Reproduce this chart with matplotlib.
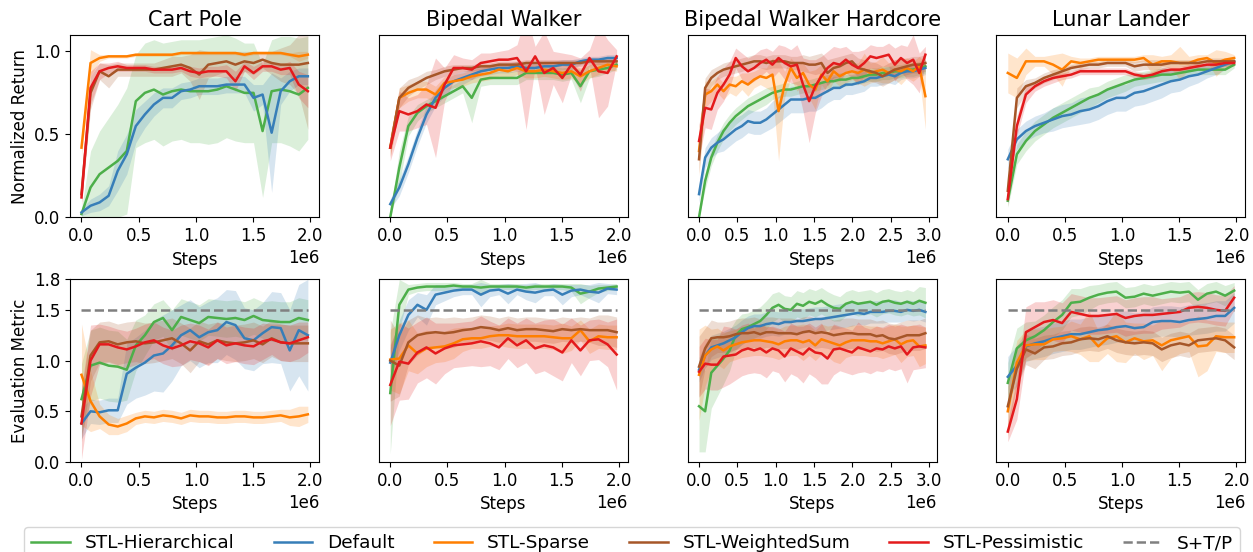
import matplotlib
matplotlib.use("Agg")
import matplotlib.pyplot as plt
import numpy as np

# x positions (steps)
steps_2m = np.linspace(0, 1.98e6, 26)
steps_3m = np.linspace(0, 2.95e6, 38)

envs = ["Cart Pole", "Bipedal Walker", "Bipedal Walker Hardcore", "Lunar Lander"]
methods = ["STL-Hierarchical", "Default", "STL-Sparse", "STL-WeightedSum", "STL-Pessimistic"]
colors = ["#4daf4a", "#377eb8", "#ff7f00", "#a65628", "#e41a1c"]
baseline_value = 1.5

# ---------------- Normalized Return (row 1) ----------------
cp_ret = {
    "STL-Hierarchical": [0.02, 0.18, 0.26, 0.30, 0.34, 0.40, 0.70, 0.75, 0.77, 0.74, 0.76, 0.77, 0.76, 0.76, 0.76, 0.77, 0.79, 0.77, 0.75, 0.75, 0.52, 0.76, 0.77, 0.76, 0.74, 0.78],
    "Default": [0.03, 0.07, 0.09, 0.13, 0.28, 0.38, 0.55, 0.62, 0.68, 0.72, 0.72, 0.76, 0.77, 0.79, 0.79, 0.79, 0.80, 0.80, 0.80, 0.72, 0.74, 0.51, 0.76, 0.82, 0.85, 0.85],
    "STL-Sparse": [0.42, 0.93, 0.96, 0.97, 0.97, 0.97, 0.98, 0.98, 0.98, 0.98, 0.98, 0.99, 0.99, 0.99, 0.99, 0.99, 0.99, 0.99, 0.98, 0.99, 0.99, 0.99, 0.99, 0.98, 0.97, 0.98],
    "STL-WeightedSum": [0.14, 0.75, 0.88, 0.85, 0.89, 0.89, 0.89, 0.89, 0.89, 0.90, 0.91, 0.92, 0.90, 0.86, 0.92, 0.93, 0.94, 0.92, 0.94, 0.93, 0.95, 0.93, 0.92, 0.92, 0.92, 0.93],
    "STL-Pessimistic": [0.12, 0.78, 0.88, 0.90, 0.91, 0.90, 0.90, 0.90, 0.89, 0.89, 0.89, 0.90, 0.88, 0.87, 0.88, 0.88, 0.88, 0.82, 0.91, 0.87, 0.91, 0.91, 0.89, 0.90, 0.80, 0.76],
}
cp_ret_sd = {
    "STL-Hierarchical": [0.03, 0.22, 0.26, 0.30, 0.34, 0.38, 0.28, 0.30, 0.30, 0.31, 0.30, 0.30, 0.31, 0.31, 0.32, 0.32, 0.31, 0.31, 0.30, 0.30, 0.40, 0.31, 0.32, 0.33, 0.34, 0.31],
    "Default": [0.02, 0.04, 0.05, 0.06, 0.12, 0.12, 0.10, 0.08, 0.07, 0.06, 0.06, 0.05, 0.05, 0.05, 0.05, 0.05, 0.05, 0.05, 0.05, 0.08, 0.06, 0.36, 0.08, 0.06, 0.05, 0.05],
    "STL-Sparse": [0.05, 0.08, 0.02, 0.01, 0.01, 0.01, 0.01, 0.01, 0.01, 0.01, 0.01, 0.01, 0.01, 0.01, 0.01, 0.01, 0.01, 0.01, 0.01, 0.01, 0.01, 0.01, 0.01, 0.01, 0.03, 0.02],
    "STL-WeightedSum": [0.05, 0.10, 0.05, 0.07, 0.04, 0.04, 0.04, 0.04, 0.04, 0.05, 0.06, 0.05, 0.08, 0.15, 0.08, 0.07, 0.06, 0.08, 0.06, 0.07, 0.05, 0.07, 0.10, 0.12, 0.18, 0.40],
    "STL-Pessimistic": [0.05, 0.10, 0.05, 0.03, 0.03, 0.02, 0.02, 0.02, 0.02, 0.02, 0.02, 0.02, 0.03, 0.03, 0.03, 0.03, 0.04, 0.06, 0.03, 0.04, 0.03, 0.03, 0.03, 0.04, 0.08, 0.10],
}

bw_ret = {
    "STL-Hierarchical": [0.0, 0.30, 0.55, 0.63, 0.67, 0.70, 0.73, 0.76, 0.79, 0.72, 0.83, 0.84, 0.84, 0.84, 0.84, 0.87, 0.87, 0.87, 0.87, 0.86, 0.87, 0.79, 0.88, 0.89, 0.90, 0.92],
    "Default": [0.08, 0.18, 0.32, 0.48, 0.62, 0.72, 0.78, 0.82, 0.84, 0.86, 0.88, 0.89, 0.90, 0.90, 0.91, 0.90, 0.90, 0.91, 0.91, 0.92, 0.92, 0.94, 0.95, 0.95, 0.96, 0.96],
    "STL-Sparse": [0.42, 0.72, 0.75, 0.77, 0.77, 0.74, 0.81, 0.82, 0.83, 0.85, 0.86, 0.87, 0.89, 0.88, 0.90, 0.88, 0.88, 0.89, 0.88, 0.87, 0.88, 0.85, 0.88, 0.90, 0.92, 0.91],
    "STL-WeightedSum": [0.42, 0.72, 0.78, 0.81, 0.84, 0.86, 0.88, 0.89, 0.90, 0.90, 0.91, 0.91, 0.92, 0.92, 0.92, 0.93, 0.93, 0.93, 0.93, 0.93, 0.93, 0.93, 0.94, 0.94, 0.94, 0.94],
    "STL-Pessimistic": [0.42, 0.64, 0.62, 0.64, 0.68, 0.66, 0.80, 0.90, 0.90, 0.89, 0.93, 0.94, 0.95, 0.95, 0.96, 0.88, 0.97, 0.87, 0.90, 0.84, 0.92, 0.86, 0.96, 0.88, 0.87, 0.97],
}
bw_ret_sd = {
    "STL-Hierarchical": [0.03, 0.10, 0.06, 0.05, 0.04, 0.04, 0.04, 0.04, 0.04, 0.15, 0.04, 0.04, 0.04, 0.04, 0.04, 0.04, 0.04, 0.04, 0.04, 0.04, 0.04, 0.10, 0.04, 0.04, 0.03, 0.03],
    "Default": [0.03, 0.05, 0.05, 0.05, 0.05, 0.05, 0.05, 0.04, 0.04, 0.03, 0.03, 0.03, 0.03, 0.03, 0.03, 0.03, 0.03, 0.03, 0.03, 0.03, 0.03, 0.02, 0.02, 0.02, 0.02, 0.02],
    "STL-Sparse": [0.06, 0.06, 0.05, 0.05, 0.05, 0.05, 0.04, 0.04, 0.04, 0.04, 0.04, 0.04, 0.04, 0.04, 0.04, 0.04, 0.04, 0.04, 0.04, 0.04, 0.04, 0.05, 0.04, 0.04, 0.03, 0.03],
    "STL-WeightedSum": [0.05, 0.06, 0.05, 0.04, 0.04, 0.03, 0.03, 0.03, 0.02, 0.02, 0.02, 0.02, 0.02, 0.02, 0.02, 0.02, 0.02, 0.02, 0.02, 0.02, 0.02, 0.02, 0.02, 0.02, 0.02, 0.02],
    "STL-Pessimistic": [0.08, 0.12, 0.10, 0.10, 0.12, 0.30, 0.10, 0.08, 0.06, 0.06, 0.06, 0.05, 0.05, 0.06, 0.08, 0.35, 0.06, 0.25, 0.10, 0.15, 0.06, 0.10, 0.05, 0.28, 0.20, 0.04],
}

bwh_ret = {
    "STL-Hierarchical": [0.0, 0.22, 0.36, 0.45, 0.52, 0.57, 0.61, 0.64, 0.67, 0.69, 0.71, 0.73, 0.75, 0.76, 0.77, 0.77, 0.78, 0.79, 0.79, 0.80, 0.81, 0.82, 0.82, 0.83, 0.83, 0.84, 0.84, 0.85, 0.86, 0.86, 0.87, 0.87, 0.88, 0.88, 0.89, 0.89, 0.90, 0.91],
    "Default": [0.14, 0.36, 0.42, 0.45, 0.47, 0.50, 0.53, 0.55, 0.58, 0.57, 0.57, 0.59, 0.62, 0.65, 0.68, 0.71, 0.71, 0.71, 0.72, 0.72, 0.74, 0.76, 0.78, 0.78, 0.80, 0.80, 0.81, 0.82, 0.84, 0.84, 0.85, 0.86, 0.85, 0.87, 0.88, 0.88, 0.89, 0.90],
    "STL-Sparse": [0.40, 0.74, 0.76, 0.80, 0.76, 0.80, 0.79, 0.82, 0.80, 0.83, 0.85, 0.84, 0.86, 0.64, 0.80, 0.90, 0.84, 0.87, 0.80, 0.77, 0.86, 0.82, 0.88, 0.85, 0.87, 0.88, 0.87, 0.89, 0.87, 0.88, 0.89, 0.87, 0.89, 0.88, 0.90, 0.88, 0.91, 0.73],
    "STL-WeightedSum": [0.35, 0.78, 0.84, 0.87, 0.89, 0.90, 0.91, 0.92, 0.93, 0.94, 0.94, 0.93, 0.94, 0.94, 0.94, 0.93, 0.93, 0.93, 0.92, 0.92, 0.93, 0.87, 0.90, 0.91, 0.93, 0.94, 0.90, 0.89, 0.88, 0.87, 0.85, 0.87, 0.89, 0.90, 0.91, 0.92, 0.92, 0.93],
    "STL-Pessimistic": [0.46, 0.66, 0.65, 0.75, 0.80, 0.86, 0.96, 0.91, 0.88, 0.90, 0.93, 0.95, 0.92, 0.96, 0.93, 0.91, 0.92, 0.80, 0.70, 0.79, 0.85, 0.90, 0.93, 0.92, 0.95, 0.92, 0.90, 0.93, 0.97, 0.96, 0.97, 0.98, 0.92, 0.96, 0.93, 0.95, 0.87, 0.98],
}
bwh_ret_sd = {
    "STL-Hierarchical": [0.02, 0.05, 0.05, 0.05, 0.05, 0.05, 0.05, 0.05, 0.05, 0.05, 0.05, 0.05, 0.04, 0.04, 0.04, 0.04, 0.04, 0.04, 0.04, 0.04, 0.04, 0.04, 0.04, 0.04, 0.04, 0.04, 0.04, 0.04, 0.04, 0.04, 0.04, 0.04, 0.04, 0.04, 0.04, 0.04, 0.04, 0.04],
    "Default": [0.05, 0.06, 0.06, 0.06, 0.07, 0.07, 0.07, 0.07, 0.07, 0.07, 0.07, 0.07, 0.08, 0.08, 0.08, 0.08, 0.08, 0.08, 0.08, 0.08, 0.08, 0.07, 0.07, 0.07, 0.06, 0.06, 0.06, 0.06, 0.05, 0.05, 0.05, 0.05, 0.05, 0.04, 0.04, 0.04, 0.04, 0.04],
    "STL-Sparse": [0.15, 0.08, 0.06, 0.05, 0.05, 0.05, 0.06, 0.05, 0.07, 0.05, 0.05, 0.06, 0.10, 0.30, 0.08, 0.06, 0.08, 0.06, 0.08, 0.12, 0.06, 0.07, 0.06, 0.06, 0.06, 0.05, 0.06, 0.10, 0.06, 0.06, 0.08, 0.06, 0.06, 0.08, 0.06, 0.06, 0.06, 0.20],
    "STL-WeightedSum": [0.08, 0.06, 0.05, 0.04, 0.04, 0.04, 0.04, 0.04, 0.04, 0.04, 0.04, 0.04, 0.04, 0.04, 0.04, 0.04, 0.04, 0.05, 0.05, 0.06, 0.06, 0.08, 0.06, 0.06, 0.05, 0.05, 0.06, 0.06, 0.06, 0.06, 0.06, 0.06, 0.06, 0.05, 0.05, 0.05, 0.05, 0.05],
    "STL-Pessimistic": [0.10, 0.12, 0.12, 0.10, 0.10, 0.08, 0.06, 0.08, 0.08, 0.08, 0.08, 0.07, 0.08, 0.08, 0.10, 0.10, 0.12, 0.16, 0.25, 0.16, 0.12, 0.10, 0.10, 0.10, 0.08, 0.08, 0.10, 0.08, 0.07, 0.07, 0.06, 0.07, 0.10, 0.08, 0.10, 0.15, 0.12, 0.05],
}

ll_ret = {
    "STL-Hierarchical": [0.10, 0.38, 0.46, 0.52, 0.56, 0.60, 0.63, 0.66, 0.69, 0.72, 0.74, 0.77, 0.79, 0.81, 0.83, 0.84, 0.85, 0.86, 0.86, 0.87, 0.88, 0.89, 0.89, 0.89, 0.89, 0.92],
    "Default": [0.35, 0.47, 0.52, 0.55, 0.57, 0.59, 0.61, 0.62, 0.64, 0.65, 0.67, 0.70, 0.72, 0.72, 0.75, 0.76, 0.78, 0.80, 0.82, 0.83, 0.85, 0.86, 0.88, 0.90, 0.92, 0.94],
    "STL-Sparse": [0.87, 0.84, 0.94, 0.94, 0.94, 0.92, 0.89, 0.94, 0.93, 0.94, 0.95, 0.95, 0.95, 0.95, 0.95, 0.96, 0.92, 0.94, 0.94, 0.93, 0.93, 0.95, 0.96, 0.93, 0.95, 0.96],
    "STL-WeightedSum": [0.16, 0.72, 0.79, 0.81, 0.84, 0.86, 0.88, 0.90, 0.91, 0.92, 0.92, 0.93, 0.93, 0.93, 0.91, 0.92, 0.92, 0.92, 0.93, 0.93, 0.93, 0.93, 0.94, 0.94, 0.94, 0.94],
    "STL-Pessimistic": [0.11, 0.55, 0.74, 0.79, 0.82, 0.84, 0.85, 0.86, 0.88, 0.88, 0.88, 0.88, 0.88, 0.88, 0.86, 0.85, 0.86, 0.88, 0.89, 0.89, 0.90, 0.91, 0.92, 0.92, 0.93, 0.93],
}
ll_ret_sd = {
    "STL-Hierarchical": [0.04, 0.06, 0.06, 0.06, 0.06, 0.06, 0.06, 0.06, 0.06, 0.06, 0.05, 0.05, 0.05, 0.05, 0.04, 0.04, 0.04, 0.04, 0.04, 0.03, 0.03, 0.03, 0.03, 0.03, 0.03, 0.02],
    "Default": [0.06, 0.06, 0.06, 0.06, 0.06, 0.07, 0.07, 0.07, 0.08, 0.08, 0.08, 0.08, 0.08, 0.08, 0.08, 0.08, 0.08, 0.08, 0.07, 0.07, 0.06, 0.05, 0.04, 0.04, 0.03, 0.02],
    "STL-Sparse": [0.12, 0.12, 0.08, 0.03, 0.03, 0.06, 0.10, 0.03, 0.03, 0.02, 0.02, 0.02, 0.02, 0.02, 0.02, 0.02, 0.06, 0.03, 0.04, 0.10, 0.04, 0.03, 0.02, 0.08, 0.05, 0.02],
    "STL-WeightedSum": [0.06, 0.06, 0.04, 0.03, 0.03, 0.03, 0.02, 0.02, 0.02, 0.02, 0.02, 0.02, 0.02, 0.02, 0.03, 0.03, 0.03, 0.03, 0.02, 0.02, 0.02, 0.02, 0.02, 0.02, 0.02, 0.02],
    "STL-Pessimistic": [0.04, 0.06, 0.05, 0.03, 0.03, 0.03, 0.02, 0.02, 0.02, 0.02, 0.02, 0.02, 0.02, 0.02, 0.02, 0.02, 0.02, 0.02, 0.02, 0.02, 0.02, 0.02, 0.02, 0.02, 0.02, 0.02],
}

# ---------------- Evaluation Metric (row 2) ----------------
cp_eval = {
    "STL-Hierarchical": [0.62, 0.95, 0.98, 0.95, 0.94, 0.91, 1.15, 1.25, 1.38, 1.42, 1.30, 1.43, 1.40, 1.37, 1.43, 1.42, 1.41, 1.42, 1.40, 1.44, 1.40, 1.39, 1.38, 1.38, 1.42, 1.40],
    "Default": [0.38, 0.50, 0.49, 0.51, 0.51, 0.87, 0.93, 0.98, 1.05, 1.07, 1.15, 1.25, 1.30, 1.23, 1.28, 1.30, 1.38, 1.35, 1.22, 1.20, 1.27, 1.33, 1.32, 1.10, 1.30, 1.25],
    "STL-Sparse": [0.86, 0.60, 0.45, 0.37, 0.35, 0.38, 0.43, 0.45, 0.44, 0.46, 0.45, 0.43, 0.46, 0.45, 0.45, 0.44, 0.44, 0.45, 0.45, 0.44, 0.44, 0.45, 0.46, 0.44, 0.45, 0.47],
    "STL-WeightedSum": [0.45, 1.05, 1.18, 1.19, 1.16, 1.18, 1.19, 1.17, 1.18, 1.20, 1.22, 1.17, 1.10, 1.19, 1.16, 1.20, 1.18, 1.17, 1.18, 1.20, 1.16, 1.22, 1.18, 1.17, 1.17, 1.17],
    "STL-Pessimistic": [0.38, 1.00, 1.16, 1.16, 1.13, 1.11, 1.14, 1.18, 1.20, 1.15, 1.12, 1.15, 1.19, 1.17, 1.13, 1.20, 1.15, 1.17, 1.15, 1.14, 1.19, 1.21, 1.18, 1.17, 1.20, 1.23],
}
cp_eval_sd = {
    "STL-Hierarchical": [0.35, 0.35, 0.35, 0.35, 0.35, 0.30, 0.25, 0.20, 0.18, 0.18, 0.20, 0.18, 0.18, 0.18, 0.18, 0.18, 0.18, 0.18, 0.18, 0.18, 0.18, 0.20, 0.20, 0.20, 0.20, 0.20],
    "Default": [0.15, 0.12, 0.12, 0.12, 0.12, 0.30, 0.30, 0.32, 0.35, 0.38, 0.35, 0.30, 0.30, 0.30, 0.30, 0.32, 0.32, 0.34, 0.30, 0.30, 0.30, 0.35, 0.35, 0.40, 0.45, 0.55],
    "STL-Sparse": [0.50, 0.30, 0.12, 0.10, 0.08, 0.08, 0.06, 0.06, 0.06, 0.06, 0.06, 0.06, 0.06, 0.06, 0.06, 0.06, 0.06, 0.06, 0.06, 0.06, 0.06, 0.06, 0.06, 0.08, 0.10, 0.08],
    "STL-WeightedSum": [0.25, 0.25, 0.20, 0.20, 0.20, 0.20, 0.20, 0.20, 0.20, 0.20, 0.20, 0.20, 0.22, 0.20, 0.20, 0.18, 0.18, 0.18, 0.18, 0.18, 0.18, 0.18, 0.18, 0.18, 0.18, 0.18],
    "STL-Pessimistic": [0.35, 0.35, 0.20, 0.18, 0.18, 0.18, 0.18, 0.18, 0.18, 0.18, 0.18, 0.20, 0.18, 0.18, 0.18, 0.18, 0.18, 0.18, 0.18, 0.18, 0.18, 0.15, 0.18, 0.18, 0.18, 0.15],
}

bw_eval = {
    "STL-Hierarchical": [0.68, 1.55, 1.70, 1.72, 1.73, 1.73, 1.73, 1.74, 1.73, 1.73, 1.72, 1.73, 1.73, 1.73, 1.73, 1.72, 1.73, 1.73, 1.73, 1.73, 1.72, 1.66, 1.68, 1.71, 1.72, 1.73],
    "Default": [0.98, 1.25, 1.45, 1.55, 1.50, 1.65, 1.67, 1.69, 1.70, 1.70, 1.65, 1.69, 1.70, 1.66, 1.70, 1.68, 1.67, 1.69, 1.70, 1.65, 1.69, 1.70, 1.68, 1.67, 1.71, 1.70],
    "STL-Sparse": [1.01, 1.02, 1.15, 1.07, 1.12, 1.13, 1.14, 1.17, 1.21, 1.22, 1.22, 1.24, 1.25, 1.25, 1.24, 1.24, 1.24, 1.24, 1.23, 1.22, 1.22, 1.30, 1.19, 1.24, 1.23, 1.23],
    "STL-WeightedSum": [1.00, 0.95, 1.18, 1.25, 1.27, 1.28, 1.27, 1.28, 1.30, 1.31, 1.33, 1.32, 1.30, 1.32, 1.30, 1.31, 1.31, 1.30, 1.29, 1.31, 1.30, 1.31, 1.30, 1.30, 1.30, 1.28],
    "STL-Pessimistic": [0.76, 0.99, 0.97, 1.08, 1.13, 1.07, 1.12, 1.15, 1.16, 1.17, 1.19, 1.17, 1.13, 1.22, 1.15, 1.20, 1.12, 1.15, 1.13, 1.08, 1.20, 1.10, 1.20, 1.21, 1.16, 1.06],
}
bw_eval_sd = {
    "STL-Hierarchical": [0.60, 0.25, 0.05, 0.04, 0.04, 0.04, 0.04, 0.03, 0.03, 0.03, 0.08, 0.03, 0.03, 0.03, 0.03, 0.03, 0.03, 0.03, 0.03, 0.03, 0.04, 0.10, 0.06, 0.04, 0.03, 0.03],
    "Default": [0.15, 0.15, 0.15, 0.12, 0.15, 0.10, 0.08, 0.06, 0.05, 0.05, 0.12, 0.06, 0.05, 0.10, 0.05, 0.08, 0.10, 0.05, 0.06, 0.10, 0.06, 0.05, 0.07, 0.10, 0.05, 0.05],
    "STL-Sparse": [0.30, 0.35, 0.25, 0.20, 0.18, 0.15, 0.15, 0.15, 0.12, 0.10, 0.10, 0.10, 0.10, 0.12, 0.12, 0.12, 0.12, 0.12, 0.12, 0.15, 0.12, 0.10, 0.12, 0.12, 0.12, 0.12],
    "STL-WeightedSum": [0.40, 0.30, 0.22, 0.20, 0.15, 0.15, 0.15, 0.15, 0.12, 0.12, 0.12, 0.12, 0.12, 0.12, 0.12, 0.12, 0.12, 0.12, 0.12, 0.12, 0.12, 0.12, 0.12, 0.15, 0.15, 0.15],
    "STL-Pessimistic": [0.40, 0.38, 0.35, 0.30, 0.30, 0.30, 0.25, 0.22, 0.22, 0.22, 0.25, 0.22, 0.22, 0.20, 0.22, 0.22, 0.25, 0.25, 0.28, 0.28, 0.22, 0.25, 0.20, 0.20, 0.22, 0.35],
}

bwh_eval = {
    "STL-Hierarchical": [0.55, 0.50, 0.88, 0.95, 1.02, 1.10, 1.25, 1.31, 1.33, 1.36, 1.39, 1.45, 1.52, 1.55, 1.51, 1.50, 1.56, 1.54, 1.58, 1.56, 1.59, 1.55, 1.52, 1.51, 1.56, 1.58, 1.56, 1.57, 1.58, 1.55, 1.58, 1.59, 1.57, 1.56, 1.58, 1.56, 1.59, 1.57],
    "Default": [0.91, 1.05, 1.13, 1.15, 1.17, 1.20, 1.23, 1.28, 1.32, 1.34, 1.34, 1.36, 1.37, 1.36, 1.38, 1.38, 1.39, 1.39, 1.40, 1.41, 1.41, 1.42, 1.43, 1.44, 1.45, 1.46, 1.47, 1.46, 1.48, 1.48, 1.48, 1.49, 1.49, 1.48, 1.50, 1.49, 1.50, 1.48],
    "STL-Sparse": [0.86, 1.05, 1.11, 1.14, 1.10, 1.14, 1.16, 1.18, 1.19, 1.20, 1.20, 1.19, 1.18, 1.16, 1.19, 1.20, 1.20, 1.18, 1.20, 1.15, 1.21, 1.19, 1.17, 1.15, 1.18, 1.20, 1.20, 1.20, 1.19, 1.19, 1.17, 1.19, 1.21, 1.16, 1.19, 1.20, 1.14, 1.15],
    "STL-WeightedSum": [0.94, 1.12, 1.22, 1.23, 1.23, 1.24, 1.26, 1.27, 1.27, 1.28, 1.26, 1.28, 1.28, 1.27, 1.27, 1.27, 1.26, 1.28, 1.29, 1.27, 1.28, 1.27, 1.25, 1.26, 1.27, 1.27, 1.26, 1.26, 1.26, 1.24, 1.25, 1.22, 1.21, 1.23, 1.25, 1.25, 1.25, 1.27],
    "STL-Pessimistic": [0.89, 0.97, 0.96, 0.96, 1.04, 1.05, 1.06, 1.10, 1.12, 1.10, 1.12, 1.08, 1.12, 1.10, 1.04, 1.12, 1.09, 1.06, 1.12, 1.08, 1.07, 1.02, 1.11, 1.12, 1.10, 1.08, 1.13, 1.11, 1.09, 1.12, 1.11, 1.14, 1.12, 1.14, 1.06, 1.13, 1.14, 1.13],
}
bwh_eval_sd = {
    "STL-Hierarchical": [0.45, 0.40, 0.35, 0.30, 0.25, 0.20, 0.15, 0.15, 0.14, 0.14, 0.14, 0.14, 0.14, 0.13, 0.13, 0.13, 0.13, 0.13, 0.13, 0.13, 0.13, 0.13, 0.13, 0.12, 0.12, 0.12, 0.12, 0.12, 0.12, 0.12, 0.12, 0.12, 0.12, 0.12, 0.12, 0.12, 0.14, 0.15],
    "Default": [0.12, 0.12, 0.12, 0.12, 0.12, 0.12, 0.12, 0.12, 0.12, 0.12, 0.12, 0.12, 0.12, 0.12, 0.12, 0.12, 0.12, 0.12, 0.12, 0.12, 0.12, 0.12, 0.12, 0.12, 0.12, 0.12, 0.11, 0.11, 0.11, 0.11, 0.11, 0.11, 0.11, 0.10, 0.10, 0.10, 0.10, 0.10],
    "STL-Sparse": [0.45, 0.30, 0.20, 0.18, 0.18, 0.15, 0.15, 0.15, 0.15, 0.15, 0.15, 0.15, 0.15, 0.15, 0.15, 0.15, 0.15, 0.18, 0.15, 0.15, 0.15, 0.15, 0.18, 0.18, 0.15, 0.15, 0.15, 0.15, 0.15, 0.15, 0.15, 0.15, 0.15, 0.18, 0.15, 0.15, 0.20, 0.18],
    "STL-WeightedSum": [0.30, 0.20, 0.18, 0.15, 0.15, 0.15, 0.15, 0.15, 0.15, 0.15, 0.15, 0.15, 0.15, 0.15, 0.15, 0.15, 0.15, 0.15, 0.15, 0.15, 0.15, 0.15, 0.15, 0.15, 0.15, 0.15, 0.15, 0.15, 0.15, 0.15, 0.15, 0.15, 0.15, 0.15, 0.15, 0.15, 0.15, 0.15],
    "STL-Pessimistic": [0.25, 0.25, 0.25, 0.25, 0.30, 0.28, 0.25, 0.25, 0.25, 0.22, 0.25, 0.25, 0.22, 0.22, 0.25, 0.25, 0.25, 0.28, 0.25, 0.25, 0.30, 0.25, 0.25, 0.22, 0.22, 0.22, 0.25, 0.22, 0.22, 0.22, 0.22, 0.22, 0.22, 0.22, 0.28, 0.22, 0.22, 0.20],
}

ll_eval = {
    "STL-Hierarchical": [0.78, 1.12, 1.20, 1.24, 1.30, 1.38, 1.45, 1.57, 1.58, 1.62, 1.65, 1.67, 1.68, 1.62, 1.63, 1.66, 1.64, 1.66, 1.68, 1.67, 1.68, 1.60, 1.66, 1.68, 1.64, 1.69],
    "Default": [0.84, 0.95, 1.14, 1.17, 1.19, 1.22, 1.24, 1.26, 1.26, 1.28, 1.30, 1.31, 1.33, 1.34, 1.32, 1.33, 1.38, 1.39, 1.39, 1.38, 1.40, 1.41, 1.42, 1.44, 1.44, 1.52],
    "STL-Sparse": [0.50, 0.98, 1.15, 1.16, 1.16, 1.21, 1.22, 1.24, 1.21, 1.24, 1.14, 1.22, 1.24, 1.18, 1.22, 1.19, 1.20, 1.15, 1.20, 1.22, 1.24, 1.14, 1.15, 1.24, 1.23, 1.23],
    "STL-WeightedSum": [0.55, 0.92, 1.11, 1.07, 1.13, 1.14, 1.17, 1.18, 1.21, 1.22, 1.21, 1.24, 1.20, 1.18, 1.17, 1.18, 1.17, 1.11, 1.15, 1.17, 1.15, 1.20, 1.21, 1.22, 1.20, 1.13],
    "STL-Pessimistic": [0.30, 0.62, 1.28, 1.33, 1.38, 1.40, 1.37, 1.48, 1.46, 1.44, 1.44, 1.45, 1.46, 1.42, 1.44, 1.45, 1.45, 1.46, 1.47, 1.48, 1.52, 1.53, 1.52, 1.50, 1.49, 1.62],
}
ll_eval_sd = {
    "STL-Hierarchical": [0.20, 0.20, 0.18, 0.15, 0.15, 0.15, 0.15, 0.14, 0.13, 0.12, 0.10, 0.10, 0.10, 0.10, 0.10, 0.10, 0.10, 0.10, 0.10, 0.10, 0.10, 0.10, 0.10, 0.10, 0.10, 0.08],
    "Default": [0.20, 0.20, 0.15, 0.15, 0.15, 0.15, 0.15, 0.15, 0.15, 0.15, 0.15, 0.15, 0.15, 0.15, 0.15, 0.15, 0.15, 0.15, 0.15, 0.15, 0.15, 0.15, 0.15, 0.15, 0.15, 0.15],
    "STL-Sparse": [0.25, 0.22, 0.15, 0.15, 0.15, 0.12, 0.12, 0.15, 0.15, 0.25, 0.15, 0.15, 0.25, 0.20, 0.15, 0.18, 0.15, 0.25, 0.18, 0.15, 0.15, 0.30, 0.25, 0.15, 0.15, 0.15],
    "STL-WeightedSum": [0.20, 0.18, 0.15, 0.15, 0.12, 0.12, 0.12, 0.12, 0.12, 0.12, 0.12, 0.12, 0.12, 0.12, 0.12, 0.12, 0.12, 0.12, 0.12, 0.12, 0.12, 0.12, 0.12, 0.12, 0.12, 0.12],
    "STL-Pessimistic": [0.10, 0.20, 0.25, 0.25, 0.20, 0.20, 0.20, 0.18, 0.18, 0.18, 0.18, 0.18, 0.18, 0.18, 0.18, 0.18, 0.18, 0.15, 0.15, 0.15, 0.15, 0.15, 0.15, 0.15, 0.15, 0.12],
}

returns = [(steps_2m, cp_ret, cp_ret_sd), (steps_2m, bw_ret, bw_ret_sd),
           (steps_3m, bwh_ret, bwh_ret_sd), (steps_2m, ll_ret, ll_ret_sd)]
evals = [(steps_2m, cp_eval, cp_eval_sd), (steps_2m, bw_eval, bw_eval_sd),
         (steps_3m, bwh_eval, bwh_eval_sd), (steps_2m, ll_eval, ll_eval_sd)]

fig, axes = plt.subplots(2, 4, figsize=(12.53, 5.52), dpi=100)
plt.subplots_adjust(left=0.056, right=0.994, top=0.937, bottom=0.163, wspace=0.24, hspace=0.34)


def draw(ax, x, means, sds, row):
    for name, c in zip(methods, colors):
        m = np.array(means[name])
        s = np.array(sds[name])
        lo = np.clip(m - s, 0, None)
        hi = m + s
        ax.fill_between(x, lo, hi, color=c, alpha=0.2, linewidth=0)
        ax.plot(x, m, color=c, linewidth=1.8, label=name)
    if row == 1:
        ax.plot([x[0], x[-1]], [baseline_value, baseline_value], color="gray",
                linestyle="--", linewidth=1.8, label="S+T/P")


for j in range(4):
    ax = axes[0, j]
    x, m, s = returns[j]
    draw(ax, x, m, s, 0)
    ax.set_title(envs[j], fontsize=15)
    ax.set_ylim(0, 1.1)
    ax.set_yticks([0.0, 0.5, 1.0])
    ax.set_xlabel("Steps", fontsize=12)

    ax = axes[1, j]
    x, m, s = evals[j]
    draw(ax, x, m, s, 1)
    ax.set_ylim(0, 1.8)
    ax.set_yticks([0.0, 0.5, 1.0, 1.5, 1.8])
    ax.set_xlabel("Steps", fontsize=12)

for ax in axes.flat:
    ax.tick_params(labelsize=12)
    ax.xaxis.get_offset_text().set_fontsize(12)
    if ax not in (axes[0, 0], axes[1, 0]):
        ax.set_yticks([])

for row in range(2):
    for j in (0, 1, 3):
        axes[row, j].set_xticks([0, 0.5e6, 1.0e6, 1.5e6, 2.0e6])
    axes[row, 2].set_xticks([0, 0.5e6, 1.0e6, 1.5e6, 2.0e6, 2.5e6, 3.0e6])

axes[0, 0].set_ylabel("Normalized Return", fontsize=12)
axes[1, 0].set_ylabel("Evaluation Metric", fontsize=12)

handles, labels = axes[1, 0].get_legend_handles_labels()
fig.legend(handles, labels, loc="upper center", bbox_to_anchor=(0.5044, 0.0453),
           ncol=6, fontsize=13.3, frameon=True, borderaxespad=0,
           handlelength=2.1, handletextpad=0.8, columnspacing=2.1)

fig.savefig("out.png", dpi=100)
